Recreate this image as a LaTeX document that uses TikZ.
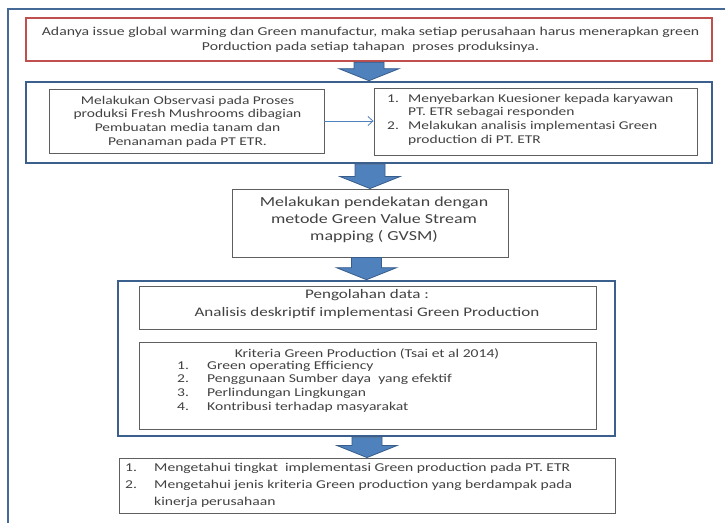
\documentclass[tikz,border=0pt]{standalone}
\usepackage{fontspec}
\setmainfont{Carlito}[FakeStretch=1.3]
\usetikzlibrary{arrows.meta,calc}
\definecolor{frameblue}{RGB}{70,106,152}
\definecolor{boxblue}{RGB}{60,96,142}
\definecolor{boxred}{RGB}{192,80,77}
\definecolor{arrowfill}{RGB}{79,129,189}
\definecolor{arrowline}{RGB}{56,93,138}
\definecolor{txt}{RGB}{66,66,66}
\definecolor{innerline}{RGB}{95,95,95}
\newcommand{\blockarrow}[2]{%
  \filldraw[bigarrow] ($(#1)+(-15,0)$) -- ($(#2)+(-15,-12)$) -- ($(#2)+(-30,-12)$) -- (#2) -- ($(#2)+(30,-12)$) -- ($(#2)+(15,-12)$) -- ($(#1)+(15,0)$) -- cycle;}
\newcommand{\numlab}[2]{\makebox[#1][l]{#2}}
\begin{document}
\begin{tikzpicture}[x=1pt,y=-1pt,
  box/.style={rectangle, inner sep=0pt, anchor=center},
  redbox/.style={box, draw=boxred, line width=2.3pt},
  bluebox/.style={box, draw=boxblue, line width=2.6pt},
  plainbox/.style={box, draw=innerline, line width=0.9pt},
  txtnode/.style={inner sep=0pt, text=txt},
  bigarrow/.style={fill=arrowfill, draw=arrowline, line width=0.8pt, line join=miter},
  thinarrow/.style={draw=arrowfill, line width=0.8pt, -{Straight Barb[length=5pt,width=9pt]}}
]
\useasboundingbox (0,0) rectangle (725,522);
\fill[white] (0,0) rectangle (725,522);
\draw[frameblue, line width=2.4pt] (8,540) -- (8,9) -- (745,9);

% boxes
\node[redbox, minimum width=686, minimum height=43] (red) at (369,39.5) {};
\node[bluebox, minimum width=686, minimum height=81] (blue1) at (369,122.5) {};
\node[plainbox, minimum width=275, minimum height=64] (obs) at (186.5,121) {};
\node[plainbox, minimum width=323, minimum height=67] (kues) at (535.5,121.5) {};
\node[plainbox, minimum width=276, minimum height=68] (gvsm) at (370,223) {};
\node[bluebox, minimum width=497, minimum height=155] (blue2) at (366.5,358.5) {};
\node[plainbox, minimum width=457, minimum height=43] (olah) at (367.5,307.5) {};
\node[plainbox, minimum width=457, minimum height=87] (krit) at (367.5,385.5) {};
\node[plainbox, minimum width=496, minimum height=55] (hasil) at (367,485.5) {};

% texts
\node[txtnode, font=\fontsize{12.1}{15}\selectfont, align=center] (redtxt) at (370.5,39.5)
  {Adanya issue global warming dan Green manufactur, maka setiap perusahaan harus menerapkan green\\Porduction pada setiap tahapan~ proses produksinya.};
\node[txtnode, font=\fontsize{11.9}{13.7}\selectfont, align=center] (obstxt) at (187.5,121.5)
  {Melakukan Observasi pada Proses\\produksi Fresh Mushrooms dibagian\\Pembuatan media tanam dan\\Penanaman pada PT ETR.};
\node[txtnode, font=\fontsize{11.9}{13.7}\selectfont, align=left, anchor=west] (kuestxt) at (387,119.5)
  {\numlab{21pt}{1.}Menyebarkan Kuesioner kepada karyawan\\\hspace*{21pt}PT. ETR sebagai responden\\\numlab{21pt}{2.}Melakukan analisis implementasi Green\\\hspace*{21pt}production di PT. ETR};
\node[txtnode, font=\fontsize{13.8}{17}\selectfont, align=center] (gvsmtxt) at (374,220)
  {Melakukan pendekatan dengan\\metode Green Value Stream\\mapping ( GVSM)};
\node[txtnode, font=\fontsize{13.1}{18}\selectfont, align=center] (olahtxt) at (367,304)
  {Pengolahan data :\\Analisis deskriptif implementasi Green Production};
\node[txtnode, font=\fontsize{12}{13.7}\selectfont] (krittitle) at (367,354)
  {Kriteria Green Production (Tsai et al 2014)};
\node[txtnode, font=\fontsize{12}{13.7}\selectfont, align=left, anchor=west] (kritlist) at (177,386.5)
  {\numlab{30pt}{1.}Green operating Efficiency\\\numlab{30pt}{2.}Penggunaan Sumber daya~ yang efektif\\\numlab{30pt}{3.}Perlindungan Lingkungan\\\numlab{30pt}{4.}Kontribusi terhadap masyarakat};
\node[txtnode, font=\fontsize{12}{17}\selectfont, align=left, anchor=west] (hasiltxt) at (125,485)
  {\numlab{29pt}{1.}Mengetahui tingkat~ implementasi Green production pada PT. ETR\\\numlab{29pt}{2.}Mengetahui jenis kriteria Green production yang berdampak pada\\\hspace*{29pt}kinerja perusahaan};

% connectors
\draw[thinarrow] (obs.east) -- (obs.east -| kues.west);
\blockarrow{red.south -| blue1.north}{blue1.north}
\blockarrow{blue1.south -| gvsm.north}{gvsm.north}
\blockarrow{gvsm.south -| blue2.north}{blue2.north}
\blockarrow{blue2.south -| hasil.north}{hasil.north}
\end{tikzpicture}
\end{document}
